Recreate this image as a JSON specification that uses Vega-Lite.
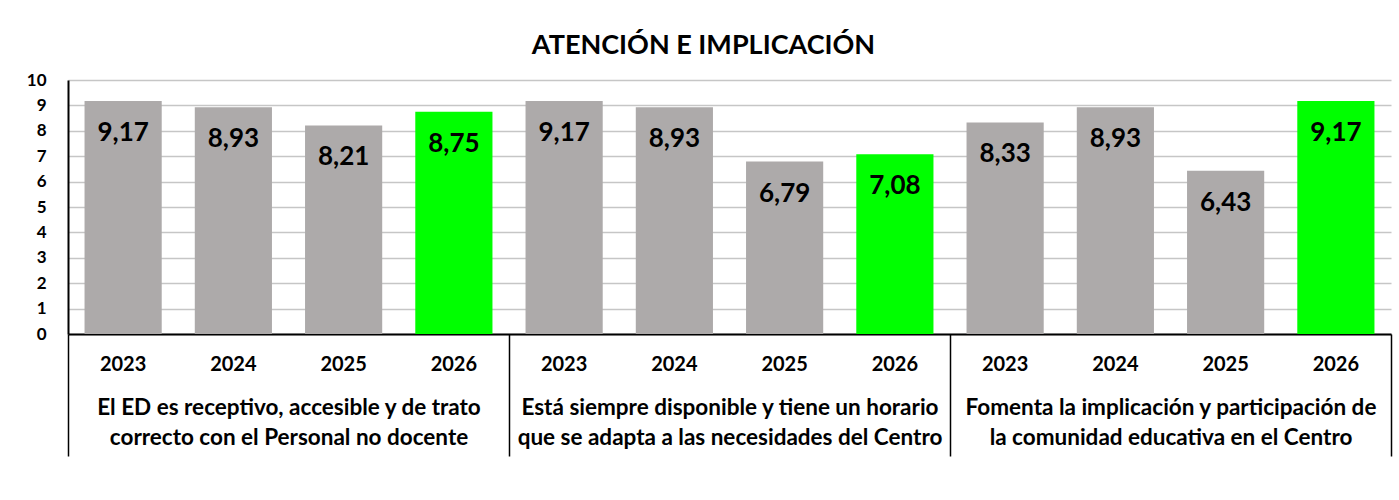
{
  "$schema": "https://vega.github.io/schema/vega-lite/v6.json",
  "autosize": "none",
  "padding": {"left": 68, "top": 80, "right": 8, "bottom": 166},
  "width": 1323,
  "height": 254,
  "background": "white",
  "title": {"text": "ATENCIÓN E IMPLICACIÓN", "fontSize": 27, "font": "Lato", "fontWeight": "bold", "color": "black", "anchor": "middle", "offset": 11, "dx": -26},
  "config": {
    "locale": {"number": {"decimal": ",", "thousands": ".", "grouping": [3], "currency": ["", " €"]}},
    "view": {"stroke": null},
    "font": "Lato",
    "axisY": {"labelOverlap": false}
  },
  "data": {"values": [
    {"grupo": "El ED es receptivo, accesible y de trato|correcto con el Personal no docente", "anio": "2023", "valor": 9.17},
    {"grupo": "El ED es receptivo, accesible y de trato|correcto con el Personal no docente", "anio": "2024", "valor": 8.93},
    {"grupo": "El ED es receptivo, accesible y de trato|correcto con el Personal no docente", "anio": "2025", "valor": 8.21},
    {"grupo": "El ED es receptivo, accesible y de trato|correcto con el Personal no docente", "anio": "2026", "valor": 8.75},
    {"grupo": "Está siempre disponible y tiene un horario|que se adapta a las necesidades del Centro", "anio": "2023", "valor": 9.17},
    {"grupo": "Está siempre disponible y tiene un horario|que se adapta a las necesidades del Centro", "anio": "2024", "valor": 8.93},
    {"grupo": "Está siempre disponible y tiene un horario|que se adapta a las necesidades del Centro", "anio": "2025", "valor": 6.79},
    {"grupo": "Está siempre disponible y tiene un horario|que se adapta a las necesidades del Centro", "anio": "2026", "valor": 7.08},
    {"grupo": "Fomenta la implicación y participación de|la comunidad educativa en el Centro", "anio": "2023", "valor": 8.33},
    {"grupo": "Fomenta la implicación y participación de|la comunidad educativa en el Centro", "anio": "2024", "valor": 8.93},
    {"grupo": "Fomenta la implicación y participación de|la comunidad educativa en el Centro", "anio": "2025", "valor": 6.43},
    {"grupo": "Fomenta la implicación y participación de|la comunidad educativa en el Centro", "anio": "2026", "valor": 9.17}
  ]},
  "encoding": {
    "x": {
      "field": "grupo", "type": "nominal", "sort": null,
      "scale": {"paddingInner": 0, "paddingOuter": 0},
      "axis": {
        "title": null, "labelAngle": 0,
        "labelExpr": "split(datum.label, '|')",
        "labelFont": "Lato", "labelFontSize": 22.5, "labelFontWeight": "bold", "labelColor": "black",
        "labelLineHeight": 30, "labelPadding": -60, "labelBaseline": "top", "labelOverlap": false, "labelBound": false, "labelLimit": 0,
        "tickBand": "extent", "tickSize": 122, "tickColor": "black", "tickWidth": 1.5,
        "domainColor": "black", "domainWidth": 2, "grid": false
      }
    },
    "xOffset": {"field": "anio", "type": "nominal", "scale": {"paddingInner": 0.3, "paddingOuter": 0.15}}
  },
  "layer": [
    {
      "mark": {"type": "bar"},
      "encoding": {
        "y": {
          "field": "valor", "type": "quantitative",
          "scale": {"domain": [0, 10], "nice": false},
          "axis": {
            "title": null, "values": [0, 1, 2, 3, 4, 5, 6, 7, 8, 9, 10], "format": "d",
            "labelFont": "Lato", "labelFontSize": 17, "labelFontWeight": "bold", "labelColor": "black",
            "labelPadding": 22, "ticks": false, "labelOverlap": false,
            "domainColor": "black", "domainWidth": 2,
            "grid": true, "gridColor": "#C6C6C6", "gridWidth": 1.5
          }
        },
        "color": {
          "field": "anio", "type": "nominal",
          "scale": {"domain": ["2023", "2024", "2025", "2026"], "range": ["#ADAAAA", "#ADAAAA", "#ADAAAA", "#00FF00"]},
          "legend": null
        }
      }
    },
    {
      "mark": {"type": "text", "dy": 32, "baseline": "middle", "align": "center", "fontSize": 26, "fontWeight": "bold", "font": "Lato", "color": "black"},
      "encoding": {
        "y": {"field": "valor", "type": "quantitative",
          "axis": {
            "title": null, "values": [0, 1, 2, 3, 4, 5, 6, 7, 8, 9, 10], "format": "d",
            "labelFont": "Lato", "labelFontSize": 17, "labelFontWeight": "bold", "labelColor": "black",
            "labelPadding": 22, "ticks": false, "labelOverlap": false,
            "domainColor": "black", "domainWidth": 2,
            "grid": true, "gridColor": "#C6C6C6", "gridWidth": 1.5
          }},
        "text": {"field": "valor", "type": "quantitative", "format": ".2f"}
      }
    },
    {
      "mark": {"type": "text", "dy": 31, "baseline": "middle", "align": "center", "fontSize": 20, "fontWeight": "bold", "font": "Lato", "color": "black"},
      "encoding": {
        "y": {"datum": 0, "type": "quantitative",
          "axis": {
            "title": null, "values": [0, 1, 2, 3, 4, 5, 6, 7, 8, 9, 10], "format": "d",
            "labelFont": "Lato", "labelFontSize": 17, "labelFontWeight": "bold", "labelColor": "black",
            "labelPadding": 22, "ticks": false, "labelOverlap": false,
            "domainColor": "black", "domainWidth": 2,
            "grid": true, "gridColor": "#C6C6C6", "gridWidth": 1.5
          }},
        "text": {"field": "anio", "type": "nominal"}
      }
    }
  ]
}
